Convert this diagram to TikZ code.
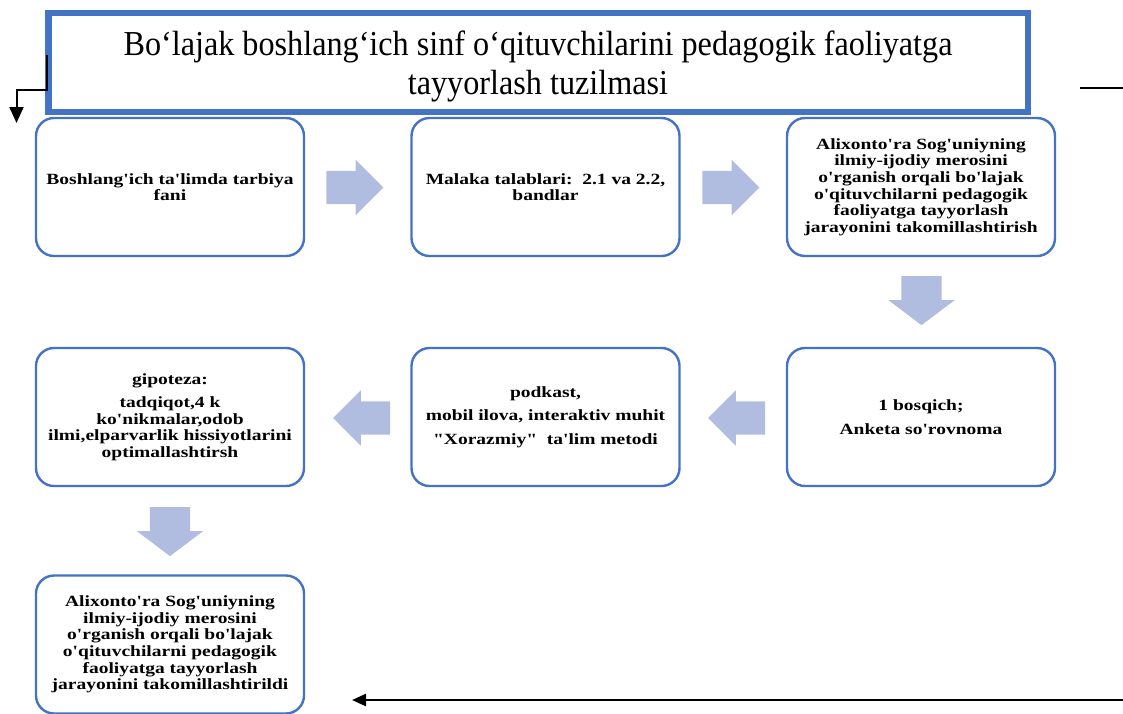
\documentclass[tikz,border=0pt]{standalone}
\usepackage{fontspec}
\setmainfont{Liberation Serif}[Ligatures=TeXOff,FakeStretch=1.25]
\newfontfamily\headfont{Liberation Serif}[Ligatures=TeXOff,FakeStretch=0.92]
\usetikzlibrary{shapes.arrows,arrows.meta}

\definecolor{frameblue}{HTML}{4472C4}
\definecolor{arrowfill}{HTML}{B0BDE0}

\tikzset{
  header/.style={draw=frameblue, line width=6.5pt, minimum width=979.5pt, minimum height=99pt,
    inner sep=0pt, font=\headfont\fontsize{35}{36}\selectfont},
  stage/.style={draw=frameblue, line width=2.4pt, rounded corners=18pt,
    minimum width=268pt, minimum height=138pt, align=center, inner sep=2pt,
    font=\bfseries\fontsize{15.6}{16.6}\selectfont},
  harrow/.style={single arrow, fill=arrowfill, draw=none, inner xsep=0pt, inner ysep=16.5pt,
    minimum height=57pt, minimum width=55pt, single arrow head extend=11pt},
  varrow/.style={single arrow, fill=arrowfill, draw=none, inner xsep=20pt, inner ysep=0pt,
    minimum height=49pt, minimum width=66pt, single arrow head extend=13pt,
    single arrow tip angle=106, shape border rotate=270},
  conn/.style={line width=2pt},
}

\begin{document}
\begin{tikzpicture}[x=1pt, y=-1pt]
        \useasboundingbox (0,0) rectangle (1123,713);

        \node[header] at (538, 62.5)(ttl){\raisebox{-4.8pt}[\height][\depth]{\begin{tabular}{@{}c@{}}Bo‘lajak boshlang‘ich sinf o‘qituvchilarini\  pedagogik faoliyatga\\[3pt]tayyorlash tuzilmasi\end{tabular}}};

        \node[stage] at (170, 187)(b1){Boshlang'ich ta'limda tarbiya\\fani};
        \node[stage] at (545.5, 187)(b2){Malaka talablari:\ \ 2.1 va 2.2,\\bandlar};
        \node[stage] at (921, 187)(b3){Alixonto'ra Sog'uniyning\\ilmiy-ijodiy\ merosini\\o'rganish orqali bo'lajak\\o'qituvchilarni pedagogik\\faoliyatga tayyorlash\\jarayonini\ takomillashtirish};
        \node[stage] at (921, 417)(b4){1 bosqich;\\[7pt]Anketa so'rovnoma};
        \node[stage] at (545.5, 417)(b5){podkast,\\[7pt]mobil ilova, interaktiv muhit\\[7pt]"Xorazmiy"\ \ ta'lim metodi};
        \node[stage] at (170, 417)(b6){gipoteza:\\[7pt]tadqiqot,4 k\\ko'nikmalar,odob\\ilmi,elparvarlik hissiyotlarini\\optimallashtirsh};
        \node[stage] at (170, 644.5)(b7){Alixonto'ra Sog'uniyning\\ilmiy-ijodiy\ merosini\\o'rganish orqali bo'lajak\\o'qituvchilarni pedagogik\\faoliyatga tayyorlash\\jarayonini\ takomillashtirildi};

        % block arrows between the stages
        \node[harrow] at (346.5, 187.5)(a12){};
        \node[harrow] at (722.5, 187.5)(a23){};
        \node[varrow] at (921.5, 293)(a34){};
        \node[harrow, shape border rotate=180] at (745, 418)(a45){};
        \node[harrow, shape border rotate=180] at (370, 418)(a56){};
        \node[varrow] at (170, 524)(a67){};

        \coordinate (lt) at (47, 55);
        \coordinate (ld) at (16.5, 123);
        \coordinate (rt1) at (1080, 88);
        \coordinate (rt2) at (1123, 88);
        \coordinate (bt1) at (1123, 700);
        \coordinate (bt2) at (352, 700);

        \draw[conn, -{Triangle[width=14pt,length=16pt]}] (lt) -- ++(0, 35) -| (ld);
        \draw[conn] (rt1) -- (rt2);
        \draw[conn, line width=2.5pt, -{Triangle[width=12pt,length=14pt]}] (bt1) -- (bt2);
    \end{tikzpicture}
\end{document}
